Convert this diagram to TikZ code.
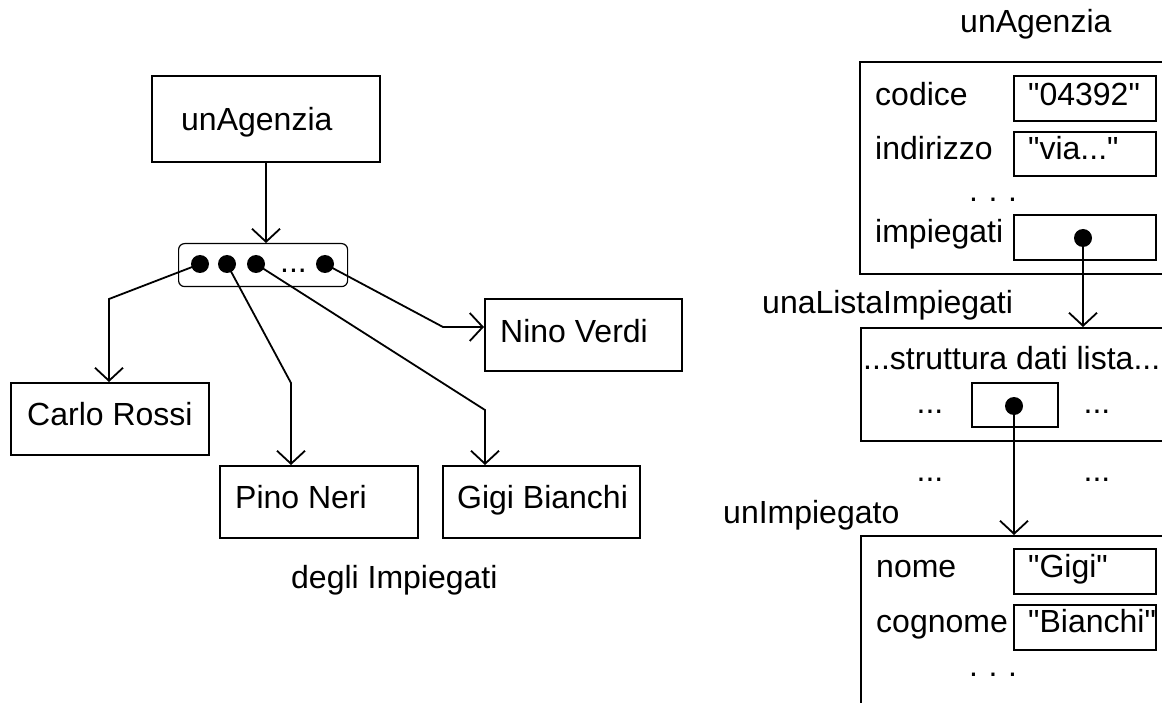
\documentclass[tikz,border=0pt]{standalone}
\usepackage{fontspec}
% a family without the TeX quote mapping, so " stays a straight quote
\newfontfamily\rawsans{Liberation Sans}
\usetikzlibrary{arrows.meta}
\begin{document}
\begin{tikzpicture}[x=1pt,y=-1pt,
  lbl/.style={anchor=base west, inner sep=0pt, font=\rawsans\fontsize{32}{38}\selectfont},
  clbl/.style={lbl, anchor=base},
  frame/.style={draw, line width=2pt, inner sep=0pt, anchor=north west},
  slot/.style={frame, line width=1.8pt},
  holder/.style={draw, line width=1.2pt, rounded corners=6pt, inner sep=0pt, anchor=north west},
  ptr/.style={circle, fill=black, inner sep=0pt, minimum size=18pt},
  ref/.style={draw, line width=1.8pt, -{Straight Barb[length=13pt,width=28pt,line width=1.8pt]}},
]
\useasboundingbox (0,0) rectangle (1162,703);
\clip (0,0) rectangle (1162,703);

% ---- left: object graph ----
\node[frame, minimum width=228, minimum height=86] (agency) at (151,75) {};
\node[lbl] (agencyTxt) at (181,131) {unAgenzia};

\node[holder, minimum width=169, minimum height=43] (holder) at (178,243) {};
\node[ptr] (d1) at (200,264) {};
\node[ptr] (d2) at (227,264) {};
\node[ptr] (d3) at (256,264) {};
\node[lbl] (dd) at (280,273) {...};
\node[ptr] (d4) at (325,264) {};

\node[frame, minimum width=198, minimum height=72] (carlo) at (10,382) {};
\node[lbl] (carloTxt) at (27,425) {Carlo Rossi};
\node[frame, minimum width=198, minimum height=72] (pino) at (219,465) {};
\node[lbl] (pinoTxt) at (235,508) {Pino Neri};
\node[frame, minimum width=197, minimum height=72] (gigi) at (442,465) {};
\node[lbl] (gigiTxt) at (457,508) {Gigi Bianchi};
\node[frame, minimum width=197, minimum height=72] (nino) at (484,298) {};
\node[lbl] (ninoTxt) at (500,342) {Nino Verdi};

\node[lbl] (caption) at (291,588) {degli Impiegati};

\coordinate (b1) at (109,299);
\coordinate (b2) at (291,383);
\coordinate (b3) at (485,410);
\coordinate (b4) at (443,327);

\draw[ref] (agency.south) -- (agency.south |- holder.north);
\draw[ref] (d1.center) -- (b1) -- (b1 |- carlo.north);
\draw[ref] (d2.center) -- (b2) -- (b2 |- pino.north);
\draw[ref] (d3.center) -- (b3) -- (b3 |- gigi.north);
\draw[ref] (d4.center) -- (b4) -- (b4 -| nino.west);

% ---- right: memory layout ----
\node[lbl] (objA) at (960,33) {unAgenzia};
\node[frame, minimum width=320, minimum height=212] (agencyObj) at (859,61) {};
\node[lbl] (fCodice) at (875,106) {codice};
\node[slot, minimum width=142, minimum height=45] (sCodice) at (1013,75) {};
\node[lbl] (vCodice) at (1028,106) {"04392"};
\node[lbl] (fIndirizzo) at (875,160) {indirizzo};
\node[slot, minimum width=142, minimum height=44] (sIndirizzo) at (1013,131) {};
\node[lbl] (vIndirizzo) at (1028,160) {"via..."};
\node[clbl] (moreA) at (993,202) {.\,\,.\,\,.};
\node[lbl] (fImpiegati) at (875,243) {impiegati};
\node[slot, minimum width=142, minimum height=45] (sImpiegati) at (1013,214) {};
\node[ptr] (p1) at (1083,238) {};

\node[lbl] (objL) at (762,314) {unaListaImpiegati};
\node[frame, minimum width=320, minimum height=113] (listObj) at (860,327) {};
\node[lbl] (listTxt) at (863,369) {...struttura dati lista...};
\node[clbl] (lL) at (930,413) {...};
\node[slot, minimum width=86, minimum height=44] (sList) at (971,382) {};
\node[ptr] (p2) at (1014,406) {};
\node[clbl] (lR) at (1097,413) {...};
\node[clbl] (oL) at (930,481) {...};
\node[clbl] (oR) at (1097,481) {...};

\node[lbl] (objE) at (723,523) {unImpiegato};
\node[frame, minimum width=320, minimum height=200] (empObj) at (860,535) {};
\node[lbl] (fNome) at (876,577) {nome};
\node[slot, minimum width=142, minimum height=45] (sNome) at (1013,548) {};
\node[lbl] (vNome) at (1028,577) {"Gigi"};
\node[lbl] (fCognome) at (876,632) {cognome};
\node[slot, minimum width=142, minimum height=45] (sCognome) at (1013,604) {};
\node[lbl] (vCognome) at (1028,632) {"Bianchi"};
\node[clbl] (moreE) at (993,676) {.\,\,.\,\,.};

\draw[ref] (p1.center) -- (p1.center |- listObj.north);
\draw[ref] (p2.center) -- (p2.center |- empObj.north);
\end{tikzpicture}
\end{document}
